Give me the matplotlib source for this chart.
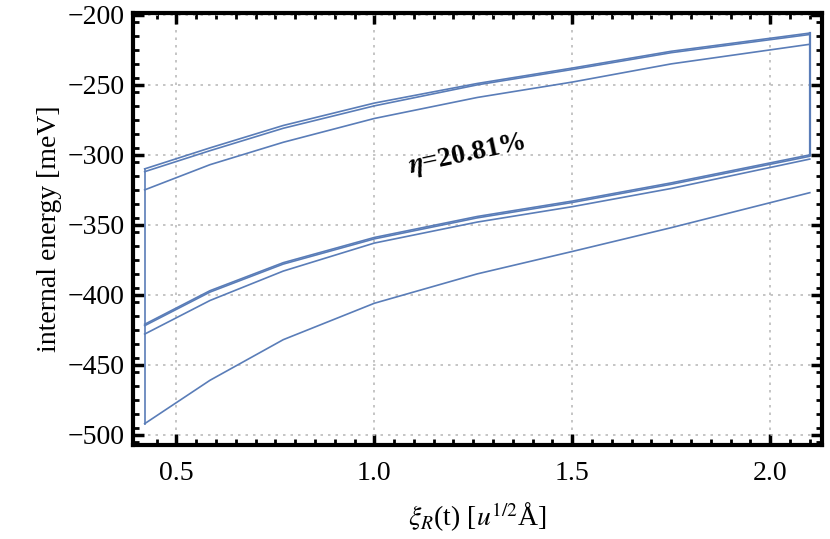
import matplotlib
matplotlib.use("Agg")
import matplotlib.pyplot as plt
import numpy as np

plt.rcParams["font.family"] = "Liberation Serif"
plt.rcParams["mathtext.fontset"] = "stix"

xi = [0.42, 0.585, 0.77, 1.0, 1.26, 1.5, 1.75, 2.1]
upper_a = [-310, -295, -279, -263, -249, -238, -226, -213]
upper_b = [-312, -297, -281, -265, -250, -239, -227, -214]
upper_c = [-325, -307, -291, -274, -259, -248, -235, -221]
lower_a = [-421, -397, -377, -359, -344, -333, -320, -300]
lower_b = [-422, -398, -378, -360, -345, -334, -321, -301]
lower_c = [-428, -404, -383, -363, -348, -337, -324, -303]
bottom = [-492, -461, -432, -406, -385, -369, -352, -327]

col = "#5a7db8"
fig = plt.figure(figsize=(8.3, 5.39), dpi=100)
ax = fig.add_axes([0.16, 0.175, 0.83, 0.80])

for ys in [upper_a, upper_b, upper_c, lower_a, lower_b, lower_c, bottom]:
    ax.plot(xi, ys, color=col, lw=1.2)
# vertical closing segments
ax.plot([xi[0], xi[0]], [upper_a[0], bottom[0]], color=col, lw=1.2)
ax.plot([xi[-1], xi[-1]], [upper_a[-1], lower_a[-1]], color=col, lw=1.6)

ax.set_xlim(0.39, 2.13)
ax.set_ylim(-507, -199)
ax.set_xticks([0.5, 1.0, 1.5, 2.0])
ax.set_xticklabels(["0.5", "1.0", "1.5", "2.0"])
ax.set_yticks([-500, -450, -400, -350, -300, -250, -200])
ax.set_yticklabels(["\u2212500", "\u2212450", "\u2212400", "\u2212350", "\u2212300", "\u2212250", "\u2212200"])
ax.set_xticks(np.arange(0.45, 2.13, 0.05), minor=True)
ax.set_yticks(np.arange(-505, -199, 10), minor=True)
ax.grid(True, which="major", color="#bbbbbb", ls=(0, (1.5, 3)), lw=1.2)
ax.tick_params(which="major", direction="in", length=8, width=2.5, labelsize=20,
               top=True, right=True)
ax.tick_params(axis="x", which="major", pad=12)
ax.tick_params(axis="y", which="major", pad=6)
ax.tick_params(which="minor", direction="in", length=4, width=2, top=True, right=True)
for s in ax.spines.values():
    s.set_linewidth(3)

ax.set_xlabel(r"$\xi_R$(t) [$u^{1/2}$Å]", fontsize=20, labelpad=10)
ax.set_ylabel("internal energy [meV]", fontsize=20)
ax.text(1.08, -300, r"$\boldsymbol{\eta}$=20.81%", fontsize=20, fontweight="bold",
        rotation=12, ha="left", va="center")

fig.savefig("out.png", dpi=100)
